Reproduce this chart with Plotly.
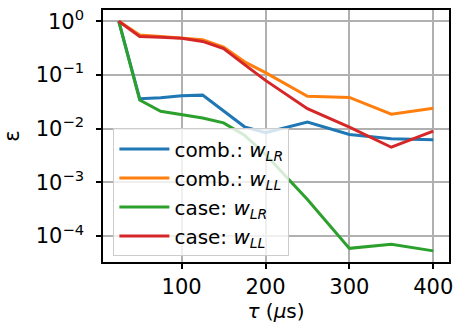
import plotly.graph_objects as go

# Waiting time tau in microseconds
tau = [25, 50, 75, 100, 125, 150, 175, 200, 250, 300, 350, 400]

# Error epsilon for each weighting scheme
comb_w_lr = [1.0, 0.036, 0.0377, 0.041, 0.042, 0.021, 0.0108, 0.0084, 0.0133, 0.0078, 0.0065, 0.0062]
comb_w_ll = [1.0, 0.55, 0.52, 0.48, 0.45, 0.33, 0.175, 0.11, 0.040, 0.038, 0.0185, 0.024]
case_w_lr = [1.0, 0.034, 0.021, 0.018, 0.0158, 0.0128, 0.0075, 0.0033, 0.00048, 5.9e-5, 7.0e-5, 5.3e-5]
case_w_ll = [1.0, 0.52, 0.50, 0.48, 0.42, 0.31, 0.155, 0.079, 0.0235, 0.0107, 0.0045, 0.009]

y_tick_vals = [1, 0.1, 0.01, 0.001, 0.0001]
y_tick_text = ["10<sup>0</sup>", "10<sup>\u22121</sup>", "10<sup>\u22122</sup>",
               "10<sup>\u22123</sup>", "10<sup>\u22124</sup>"]
x_tick_vals = [100, 200, 300, 400]

series = [
    ("comb.: <i>w</i><sub><i>LR</i></sub>", comb_w_lr, "#1f77b4"),
    ("comb.: <i>w</i><sub><i>LL</i></sub>", comb_w_ll, "#ff7f0e"),
    ("case: <i>w</i><sub><i>LR</i></sub>", case_w_lr, "#2ca02c"),
    ("case: <i>w</i><sub><i>LL</i></sub>", case_w_ll, "#d62728"),
]

fig = go.Figure()
for name, vals, color in series:
    fig.add_trace(go.Scatter(x=tau, y=vals, mode="lines", name=name,
                             line=dict(color=color, width=3)))

font = dict(family="DejaVu Sans", size=20, color="black")

fig.update_layout(
    width=456, height=326,
    margin=dict(l=103, r=7, t=10, b=64),
    paper_bgcolor="white", plot_bgcolor="white",
    font=font,
    showlegend=True,
    legend=dict(x=0.03, y=0.53, xanchor="left", yanchor="top",
                bgcolor="rgba(255,255,255,0.8)", bordercolor="#cccccc",
                borderwidth=1, font=dict(family="DejaVu Sans", size=20, color="black"),
                itemwidth=50, tracegroupgap=0),
)

fig.update_xaxes(
    range=[6.25, 418.75], tickvals=x_tick_vals,
    showgrid=True, gridcolor="#b0b0b0", gridwidth=1.5,
    showline=True, mirror=True, linecolor="black", linewidth=1.5,
    ticks="outside", ticklen=5, tickwidth=1.5, tickcolor="black",
    zeroline=False, automargin=False,
    tickfont=dict(family="DejaVu Sans", size=21, color="black"),
    title=dict(text="<i>\u03c4</i> (<i>\u03bc</i>s)", font=font, standoff=6),
)
fig.update_yaxes(
    type="log", range=[-4.483, 0.208],
    tickvals=y_tick_vals, ticktext=y_tick_text,
    showgrid=True, gridcolor="#b0b0b0", gridwidth=1.5,
    showline=True, mirror=True, linecolor="black", linewidth=1.5,
    ticks="outside", ticklen=5, tickwidth=1.5, tickcolor="black",
    ticklabelstandoff=8, automargin=False,
    zeroline=False, tickfont=dict(family="DejaVu Sans", size=21, color="black"),
    title=dict(text="\u03b5", font=dict(family="DejaVu Sans", size=21, color="black"), standoff=22),
)

fig.write_html("out.html")
